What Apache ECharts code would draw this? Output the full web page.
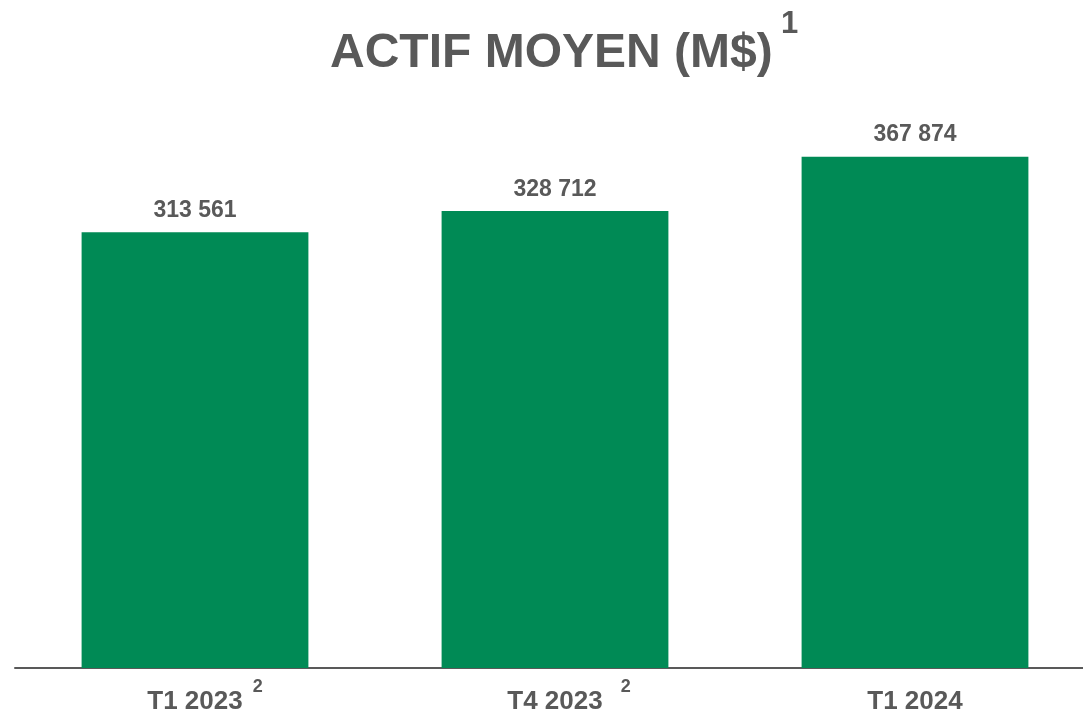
<!DOCTYPE html>
<html>
<head>
<meta charset="utf-8">
<script src="https://cdn.jsdelivr.net/npm/echarts@6/dist/echarts.min.js"></script>
<style>
  html, body { margin: 0; padding: 0; background: #fff; overflow: hidden; }
  #chart { width: 1096px; height: 715px; }
</style>
</head>
<body>
<div id="chart"></div>
<script>
const categories = ['T1 2023', 'T4 2023', 'T1 2024'];
const notes = ['2', '2', ''];
const values = [313561, 328712, 367874];
const titleText = 'ACTIF MOYEN (M$)';
const titleNote = '1';

const fmt = v => String(v).replace(/\B(?=(\d{3})+(?!\d))/g, ' ');
const grey = '#595959';
const font = '"Liberation Sans", Arial, sans-serif';
const noteStyle = w => ({
    fontSize: 18, fontWeight: 'bold', color: grey, fontFamily: font,
    width: w, align: 'right', padding: [0, 0, 30, 0]
});

const chart = echarts.init(document.getElementById('chart'));
chart.setOption({
    animation: false,
    title: [{
        text: titleText,
        left: 325,
        top: 25,
        textStyle: { fontSize: 48, fontWeight: 'bold', color: grey, fontFamily: font }
    }, {
        text: titleNote,
        left: 776,
        top: 4,
        textStyle: { fontSize: 31, fontWeight: 'bold', color: grey, fontFamily: font }
    }],
    grid: { left: 15, right: 1, top: 112, bottom: 47, outerBoundsMode: 'none' },
    xAxis: {
        type: 'category',
        data: categories,
        axisLine: { lineStyle: { color: grey, width: 2 } },
        axisTick: { show: false },
        axisLabel: {
            margin: 10,
            formatter: (v, i) =>
                '{p' + i + '|}{a|' + v + '}{s' + i + '|' + (notes[i] || ' ') + '}',
            rich: {
                p0: { width: 20 },
                p1: { width: 28 },
                p2: { width: 1 },
                a: { fontSize: 26, fontWeight: 'bold', color: grey, fontFamily: font },
                s0: noteStyle(20),
                s1: noteStyle(28),
                s2: noteStyle(1)
            }
        }
    },
    yAxis: {
        type: 'value',
        min: 0,
        max: 400000,
        show: false,
        splitLine: { show: false }
    },
    series: [{
        type: 'bar',
        data: values,
        barWidth: '63%',
        itemStyle: { color: '#008A55' },
        label: {
            show: true,
            position: 'top',
            distance: 10,
            formatter: p => fmt(p.value),
            fontSize: 23,
            fontWeight: 'bold',
            color: grey,
            fontFamily: font
        }
    }]
});
</script>
</body>
</html>
